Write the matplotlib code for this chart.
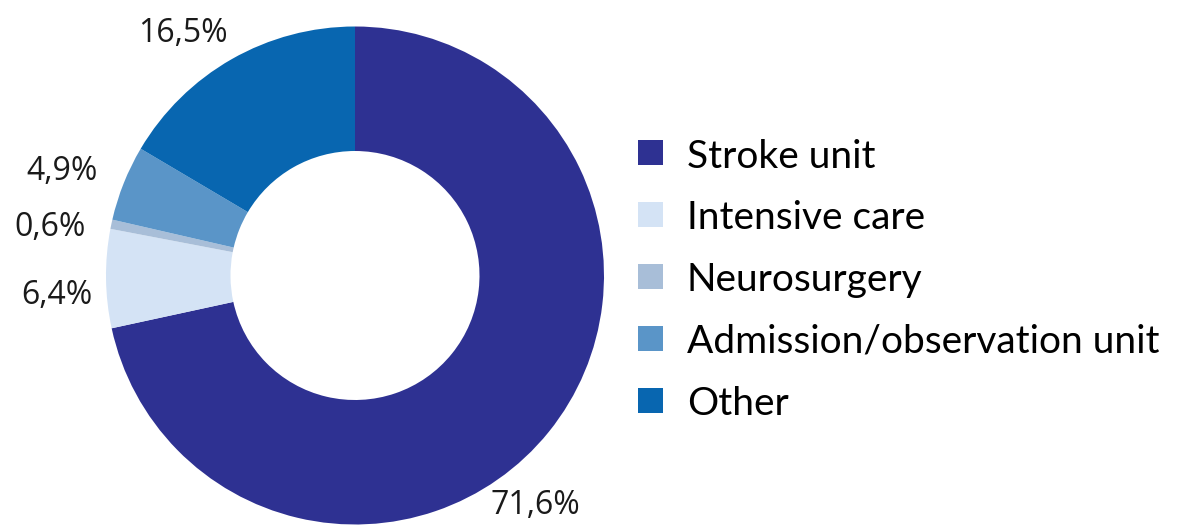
import matplotlib
matplotlib.use("Agg")
from matplotlib import pyplot as plt
from matplotlib.patches import Rectangle

categories = ["Stroke unit", "Intensive care", "Neurosurgery",
              "Admission/observation unit", "Other"]
shares = [71.6, 6.4, 0.6, 4.9, 16.5]
share_labels = ["71,6%", "6,4%", "0,6%", "4,9%", "16,5%"]
colors = ["#2E3192", "#D4E3F5", "#A8BED8", "#5A95C8", "#0866B0"]

W, H = 1178, 527
fig = plt.figure(figsize=(W / 100, H / 100), dpi=100)

# donut centre / radius in pixels
cx, cy, r = 355, 275.5, 249
ax = fig.add_axes([(cx - r) / W, (H - cy - r) / H, 2 * r / W, 2 * r / H])
ax.pie(shares, colors=colors, startangle=90, counterclock=False,
       radius=1, wedgeprops=dict(width=0.5, linewidth=0))
ax.set_xlim(-1, 1)
ax.set_ylim(-1, 1)
ax.set_aspect("equal")
ax.axis("off")

# label positions (pixels) for each share
label_px = [(535, 505), (57, 295), (50, 228), (62, 172), (183, 33)]
for lab, (px, py) in zip(share_labels, label_px):
    ax.text((px - cx) / r, (cy - py) / r, lab, ha="center", va="center",
            fontsize=23, color="#1A1A1A", family="Open Sans")

# legend
for i, (name, col) in enumerate(zip(categories, colors)):
    ycen = 153 + i * 61.8
    fig.add_artist(Rectangle((638 / W, 1 - (ycen + 12.5) / H), 25 / W, 25 / H,
                             transform=fig.transFigure, color=col, lw=0))
    fig.text(687 / W, 1 - ycen / H, name, ha="left", va="center_baseline",
             fontsize=28, color="black", family="Lato")

fig.savefig("out.png", dpi=100)
